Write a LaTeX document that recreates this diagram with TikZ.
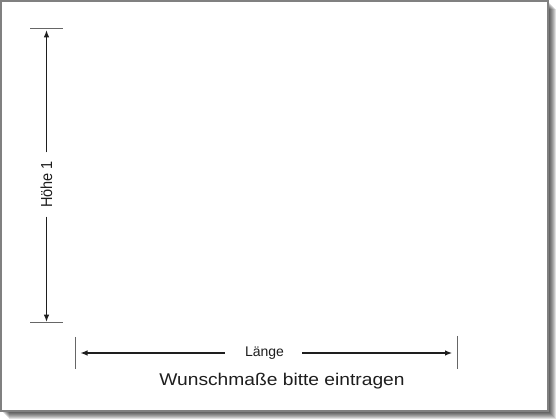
\documentclass[tikz,border=0pt]{standalone}
\usepackage{fontspec}
\setmainfont{Liberation Sans}
\usetikzlibrary{arrows.meta}
\definecolor{framegray}{HTML}{808080}
\definecolor{tickgray}{HTML}{666666}
\definecolor{inkdark}{HTML}{1E1E1E}
\begin{document}
\begin{tikzpicture}[x=1pt,y=1pt,
  dimline/.style={draw=inkdark, line width=1.5pt, -{Latex[length=7.5pt,width=5.5pt]}},
  tickline/.style={draw=tickgray, line width=1pt},
  dimlabel/.style={text=inkdark, inner sep=0pt}]
\useasboundingbox (0,0) rectangle (560,420);
\fill[white] (0,0) rectangle (560,420);
% shadow
\foreach \d in {1,...,8}
  \fill[black, opacity=0.12] (1+\d, 8.5-\d) rectangle (548+\d, 419-\d);
% frame
\filldraw[fill=white, draw=framegray, line width=2pt] (1,8.5) rectangle (548,419);
% vertical dimension
\coordinate (tt1) at (30,391);
\coordinate (tt2) at (63,391);
\coordinate (tb1) at (30,97);
\coordinate (tb2) at (63,97);
\coordinate (vtop) at (46.5,391);
\coordinate (vbot) at (46.5,97);
\draw[tickline] (tt1) -- (tt2);
\draw[tickline] (tb1) -- (tb2);
\node[dimlabel, rotate=90, inner xsep=8.5pt, font=\fontsize{14.5}{17}\selectfont] (hoehe) at (46.5,235.5) {\scalebox{1}[1.1]{Höhe 1}};
\draw[dimline] (hoehe.east) -- ([yshift=-0.8pt]vtop);
\draw[dimline] (hoehe.west) -- ([yshift=0.8pt]vbot);
% horizontal dimension
\coordinate (hl1) at (75.5,83);
\coordinate (hl2) at (75.5,51);
\coordinate (hr1) at (457,84);
\coordinate (hr2) at (457,51);
\coordinate (hleft) at (75.5,67);
\coordinate (hright) at (457,67);
\draw[tickline] (hl1) -- (hl2);
\draw[tickline] (hr1) -- (hr2);
\node[dimlabel, anchor=base, font=\fontsize{14}{17}\selectfont] (laenge) at (264.5,63.3) {Länge};
\coordinate (lw) at ([xshift=-20pt]laenge.west |- hleft);
\coordinate (le) at ([xshift=18pt]laenge.east |- hleft);
\draw[dimline] (lw) -- ([xshift=4.5pt]hleft);
\draw[dimline] (le) -- ([xshift=-4.5pt]hright);
% caption
\node[dimlabel, anchor=base, font=\fontsize{17}{20}\selectfont] (caption) at (282,34) {\scalebox{1.13}[1]{Wunschmaße bitte eintragen}};
\end{tikzpicture}
\end{document}
